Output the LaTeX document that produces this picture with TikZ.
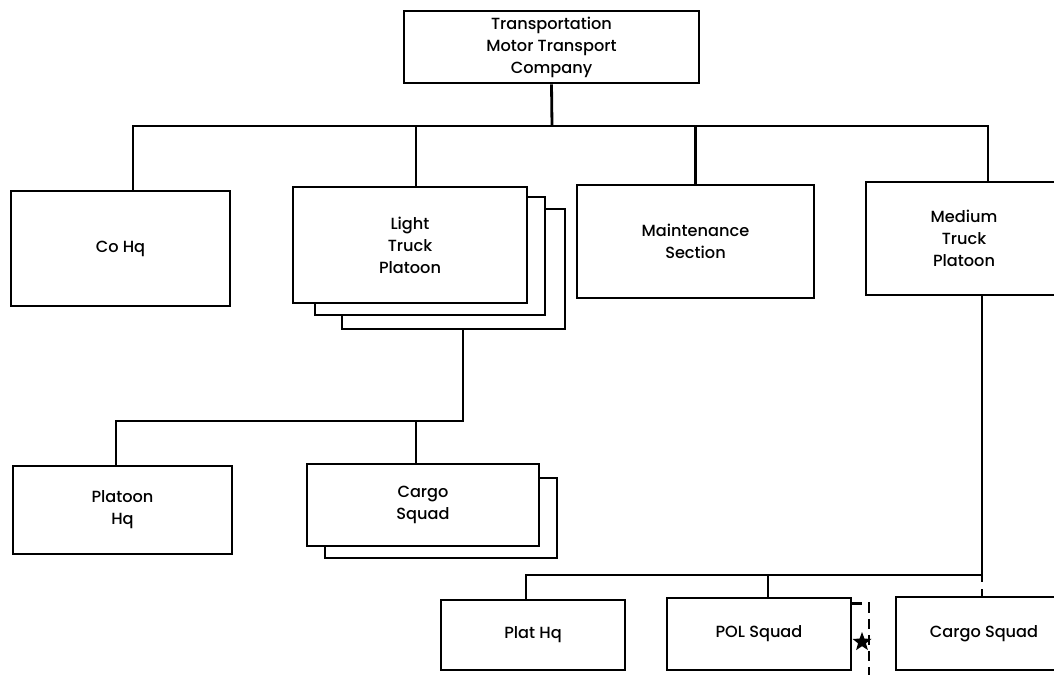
\documentclass[tikz,border=0pt]{standalone}
\usepackage{fontspec}
\setmainfont{Poppins Medium}
\usepackage{tikz}
\usetikzlibrary{shapes.geometric}

\tikzset{
  unit/.style={rectangle, draw, fill=white, line width=1.6pt, align=center, inner sep=0pt, font=\fontsize{9.2}{12.5}\selectfont},
  wire/.style={line width=1.6pt},
}

\begin{document}
\begin{tikzpicture}[x=0.02cm, y=-0.02cm]
\useasboundingbox (0,0) rectangle (1054,675);

\node[unit, minimum width=5.9cm, minimum height=1.44cm] (comp) at (551.5,47) {Transportation\\Motor Transport\\Company};

\node[unit, minimum width=4.38cm, minimum height=2.3cm] (coHq) at (120.5,248.5) {Co Hq};
\node[unit, minimum width=4.46cm, minimum height=2.4cm] (ltp3) at (453.5,269) {};
\node[unit, minimum width=4.6cm, minimum height=2.36cm] (ltp2) at (430,256) {};
\node[unit, minimum width=4.68cm, minimum height=2.32cm] (ltp) at (410,245) {Light\\Truck\\Platoon};
\node[unit, minimum width=4.74cm, minimum height=2.26cm] (maint) at (695.5,241.5) {Maintenance\\Section};
\node[unit, minimum width=3.92cm, minimum height=2.26cm] (med) at (964,238.5) {Medium\\Truck\\Platoon};

\node[unit, minimum width=4.38cm, minimum height=1.76cm] (platHq) at (122.5,510) {Platoon\\Hq};
\node[unit, minimum width=4.64cm, minimum height=1.6cm] (cargo2) at (441,518) {};
\node[unit, minimum width=4.64cm, minimum height=1.64cm] (cargo) at (423,505) {Cargo\\Squad};

\node[unit, minimum width=3.68cm, minimum height=1.4cm] (pHq) at (533,635) {Plat Hq};
\node[unit, minimum width=3.68cm, minimum height=1.44cm] (pol) at (759,634) {POL Squad};
\node[unit, minimum width=3.52cm, minimum height=1.46cm] (cgo) at (984,633.5) {Cargo Squad};

% company level
\coordinate (busA) at (552,126);
\draw[wire] (comp.south) -- (busA);
\draw[wire] (133,126 |- coHq.north) -- (133,126) -- (988,126) -- (988,126 |- med.north);
\draw[wire] (416,126) -- (416,126 |- ltp.north);
\draw[wire] (maint.north) -- (maint.north |- busA);

% light truck platoon
\coordinate (busB) at (463,421);
\draw[wire] (463,0 |- ltp3.south) -- (busB) -- (116,421) -- (116,0 |- platHq.north);
\draw[wire] (416,421) -- (416,0 |- cargo.north);

% medium truck platoon
\coordinate (busC) at (982,575);
\draw[wire] (982,0 |- med.south) -- (busC) -- (526,575) -- (526,0 |- pHq.north);
\draw[wire] (768,575) -- (768,0 |- pol.north);
\draw[wire, dash pattern=on 0.14cm off 0.14cm] (busC) -- (982,0 |- cgo.north);
\draw[wire, line width=1.3pt, dash pattern=on 0.2cm off 0.12cm] ([yshift=-0.14cm]pol.north east) -| (869,690);
\node[star, star points=5, star point ratio=2.4, fill=black, minimum size=0.4cm, inner sep=0pt] (mark) at (862,642) {};
\end{tikzpicture}
\end{document}
